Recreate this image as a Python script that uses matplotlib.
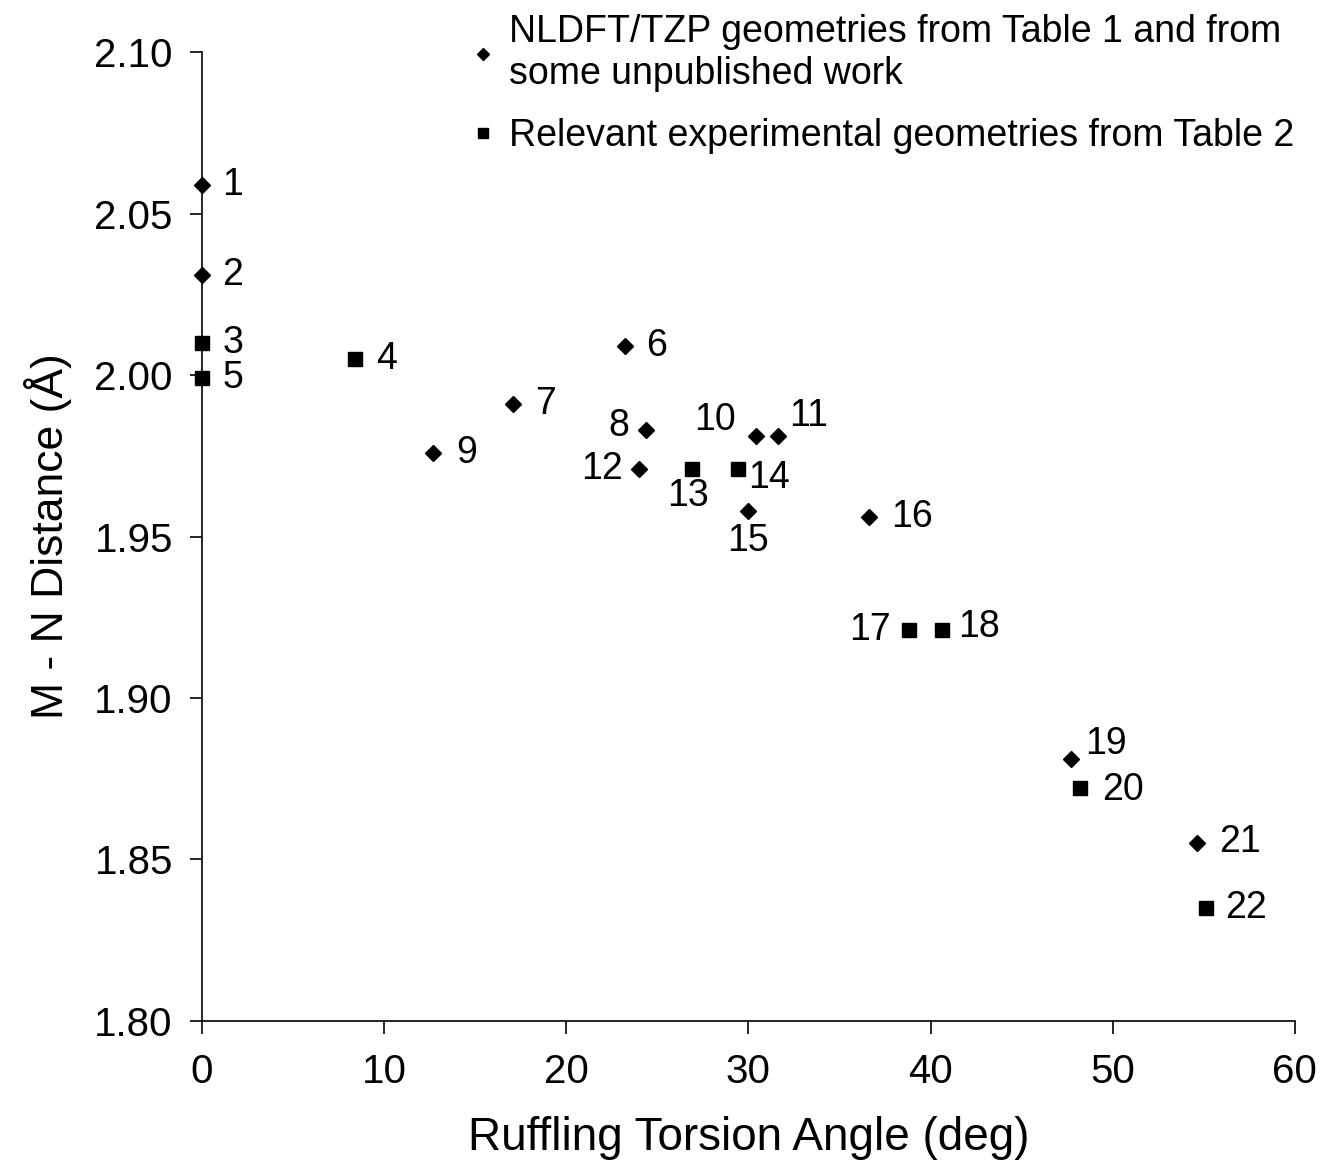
import matplotlib.pyplot as plt
import numpy as np

plt.rcParams['font.family'] = ['Liberation Sans', 'DejaVu Sans']

# NLDFT/TZP geometries (diamonds)
calc_ids = [1, 2, 6, 7, 8, 9, 10, 11, 12, 15, 16, 19, 21]
calc_angle = [0.0, 0.0, 23.2, 17.1, 24.4, 12.7, 30.4, 31.6, 24.0, 30.0, 36.6, 47.7, 54.6]
calc_dist = [2.059, 2.031, 2.009, 1.991, 1.983, 1.976, 1.981, 1.981, 1.971, 1.958, 1.956, 1.881, 1.855]

# experimental geometries (squares)
exp_ids = [3, 5, 4, 13, 14, 17, 18, 20, 22]
exp_angle = [0.0, 0.0, 8.4, 26.9, 29.4, 38.8, 40.6, 48.2, 55.1]
exp_dist = [2.010, 1.999, 2.005, 1.971, 1.971, 1.921, 1.921, 1.872, 1.835]

# label offsets in points (dx, dy)
offsets = {1: (22, 0), 2: (22, 0), 3: (22, 0), 5: (22, 0), 4: (23, 0),
           6: (23, 0), 7: (23, 0), 8: (-20, 3), 9: (24, 0), 10: (-29, 12),
           11: (22, 15), 12: (-27, 0), 13: (-3, -20), 14: (23, -7),
           15: (0, -22), 16: (31, 0), 17: (-28, 0), 18: (27, 2),
           19: (25, 11), 20: (31, -1), 21: (31, 1), 22: (29, 0)}

fig = plt.figure(figsize=(13.2, 11.6), dpi=100)
ax = fig.add_axes([0.153, 0.12, 0.828, 0.835])

h1, = ax.plot(calc_angle, calc_dist, linestyle='none', marker='D', markersize=8,
              color='black', clip_on=False, zorder=3)
h2, = ax.plot(exp_angle, exp_dist, linestyle='none', marker='s', markersize=10.5,
              color='black', clip_on=False, zorder=3)

for ids, xs, ys in [(calc_ids, calc_angle, calc_dist), (exp_ids, exp_angle, exp_dist)]:
    for i, x, y in zip(ids, xs, ys):
        ax.annotate(str(i), (x, y), xytext=offsets[i], textcoords='offset points',
                    ha='center', va='center', fontsize=27)

ax.set_xlim(0, 60)
ax.set_ylim(1.80, 2.10)
ax.set_xticks(np.arange(0, 61, 10))
ax.set_yticks(np.arange(1.80, 2.101, 0.05))
ax.set_yticklabels(['%.2f' % v for v in np.arange(1.80, 2.101, 0.05)])
ax.spines['top'].set_visible(False)
ax.spines['right'].set_visible(False)
ax.tick_params(axis='both', direction='out', length=9, width=1.2, labelsize=29)
ax.tick_params(axis='x', pad=14)
ax.tick_params(axis='y', pad=12)
ax.spines['left'].set_linewidth(1.2)
ax.spines['bottom'].set_linewidth(1.2)

ax.set_xlabel('Ruffling Torsion Angle (deg)', fontsize=33, labelpad=18)
ax.set_ylabel('M - N Distance (Å)', fontsize=32, labelpad=16)

leg = fig.legend([h1, h2],
                 ['NLDFT/TZP geometries from Table 1 and from\nsome unpublished work',
                  'Relevant experimental geometries from Table 2'],
                 loc='upper left', bbox_to_anchor=(0.333, 1.017), frameon=False,
                 fontsize=27, handlelength=0.5, handletextpad=0.45,
                 labelspacing=0.7, markerscale=0.75)

fig.savefig('out.png', dpi=100)
